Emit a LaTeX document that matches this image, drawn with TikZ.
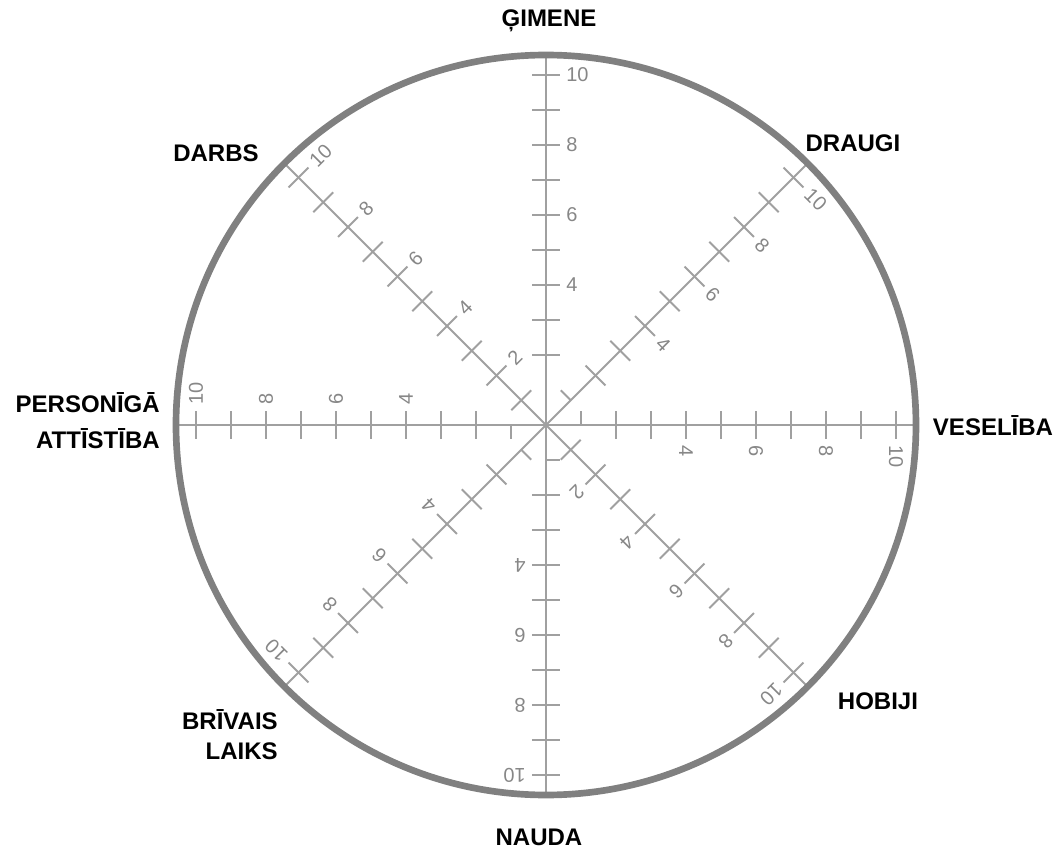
\documentclass[tikz,border=0pt]{standalone}
\usepackage{fontspec}
\setmainfont{Liberation Sans}
\usepackage{tikz}

\definecolor{rimgray}{RGB}{128,128,128}
\definecolor{axisgray}{RGB}{160,160,160}
\definecolor{numgray}{RGB}{135,135,135}

\begin{document}
\begin{tikzpicture}[
        x=0.75pt,
        y=0.75pt,
        area/.style={inner sep=0pt,font=\fontsize{18}{27}\selectfont\bfseries},
        axisline/.style={axisgray,line width=1.5pt},
        scalenum/.style={numgray,inner sep=0pt,anchor=west,font=\fontsize{15}{18}\selectfont}
    ]
        \useasboundingbox (-546,-425) rectangle (515,425);
        \foreach \a/\nums/\first in {90/{4,6,8,10}/0, 45/{4,6,8,10}/1, 0/{4,6,8,10}/1,
            -45/{2,4,6,8,10}/2, -90/{4,6,8,10}/1, -135/{4,6,8,10}/1,
            180/{4,6,8,10}/1, 135/{2,4,6,8,10}/2}{
            \begin{scope}[rotate=\a]
                \draw[axisline] (0,0) -- (370,0);
                \foreach \r in {2,...,10}
                    \draw[axisline] (\r*35,-14) -- (\r*35,14);
                \ifcase\first
                \or \draw[axisline] (35,0) -- (35,14);
                \or \draw[axisline] (35,-14) -- (35,14);
                \fi
                \foreach \n in \nums
                    \node[scalenum,rotate=\a-90] at (\n*35,-20) {\n};
            \end{scope}
        }
        \draw[rimgray,line width=5pt] (0,0) circle (370);
        \node[area,anchor=base] (gimene) at (3,398) {ĢIMENE};
        \node[area,anchor=base] (draugi) at (307,273) {DRAUGI};
        \node[area,anchor=base] (darbs) at (-330,263) {DARBS};
        \node[area,anchor=base] (veseliba) at (447,-10) {VESELĪBA};
        \node[area,anchor=east,align=right] (personiga) at (-386,4) {PERSONĪGĀ\\ATTĪSTĪBA};
        \node[area,anchor=east,align=right,font=\fontsize{18}{22.5}\selectfont\bfseries] (brivais) at (-268,-310) {BRĪVAIS\\LAIKS};
        \node[area,anchor=base] (hobiji) at (332,-284) {HOBIJI};
        \node[area,anchor=base] (nauda) at (-7,-420) {NAUDA};
    \end{tikzpicture}
\end{document}
